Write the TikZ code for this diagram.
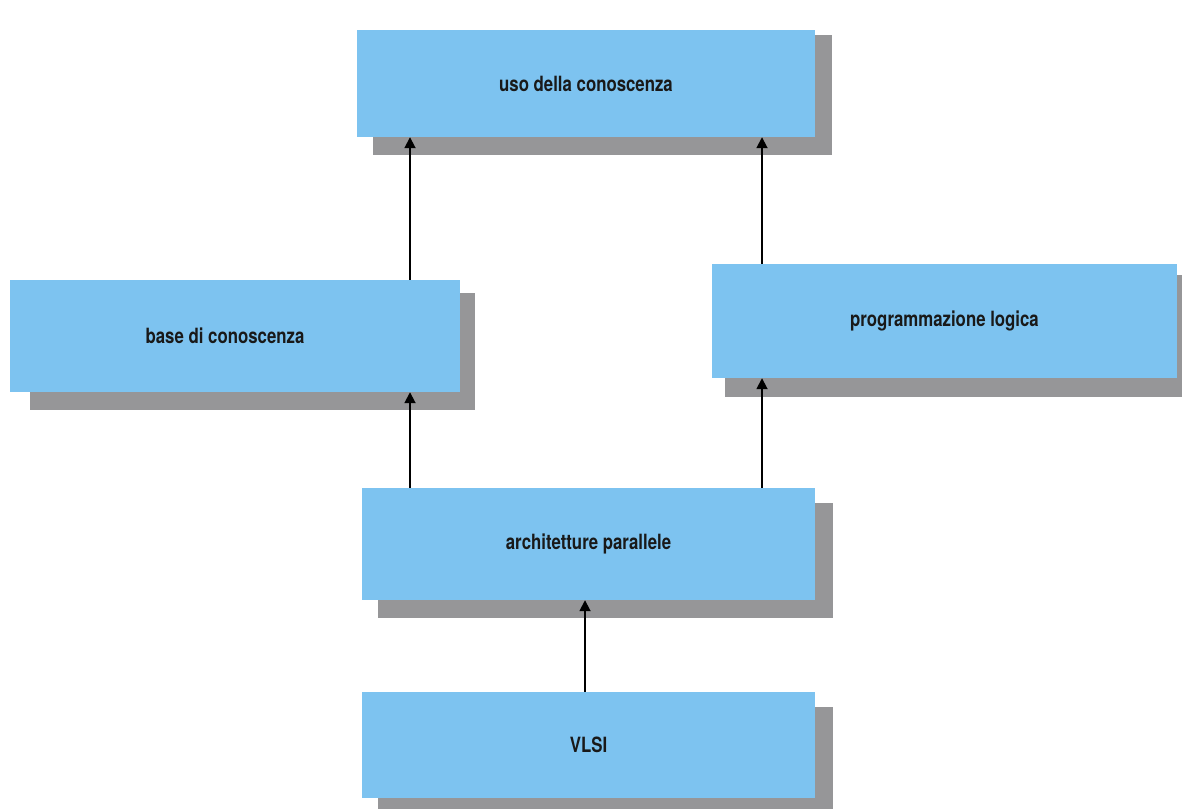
\documentclass[tikz,border=0pt]{standalone}
\usepackage{fontspec}
\setmainfont{TeX Gyre Heros}[FakeStretch=0.8]
\usetikzlibrary{arrows.meta}
\definecolor{boxblue}{RGB}{125,195,240}
\definecolor{shadowgray}{RGB}{150,150,152}
\tikzset{
  box/.style={rectangle, fill=boxblue, draw=none, inner sep=0pt,
    font=\fontsize{21}{24}\selectfont\bfseries, text=black!90},
  shadowbox/.style={fill=shadowgray, draw=none},
  arr/.style={line width=1.8pt, draw=black, -{Triangle[length=11pt,width=11pt]}}
}
\begin{document}
\begin{tikzpicture}[x=1pt,y=-1pt]
\useasboundingbox (0,0) rectangle (1182,809);
% shadows
\fill[shadowgray] (373,35) rectangle (832,155);
\fill[shadowgray] (30,293) rectangle (475,410);
\fill[shadowgray] (725,275) rectangle (1182,397);
\fill[shadowgray] (378,503) rectangle (833,618);
\fill[shadowgray] (378,707) rectangle (833,809);
% boxes
\node[box, minimum width=458pt, minimum height=107pt] (uso) at (586,83.5) {uso della conoscenza};
\node[box, minimum width=450pt, minimum height=112pt] (base) at (235,336) {\hspace*{-20pt}base di conoscenza};
\node[box, minimum width=465pt, minimum height=114pt] (prog) at (944.5,321) {programmazione logica};
\node[box, minimum width=453pt, minimum height=112pt] (arch) at (588.5,544) {architetture parallele};
\node[box, minimum width=453pt, minimum height=106pt] (vlsi) at (588.5,745) {VLSI};
% columns
\coordinate (c1) at (410,0);
\coordinate (c2) at (762,0);
\coordinate (c3) at (585,0);
% connectors
\draw[arr] (c1 |- base.north) -- (c1 |- uso.south);
\draw[arr] (c2 |- prog.north) -- (c2 |- uso.south);
\draw[arr] (c1 |- arch.north) -- (c1 |- base.south);
\draw[arr] (c2 |- arch.north) -- (c2 |- prog.south);
\draw[arr] (c3 |- vlsi.north) -- (c3 |- arch.south);
\end{tikzpicture}
\end{document}
